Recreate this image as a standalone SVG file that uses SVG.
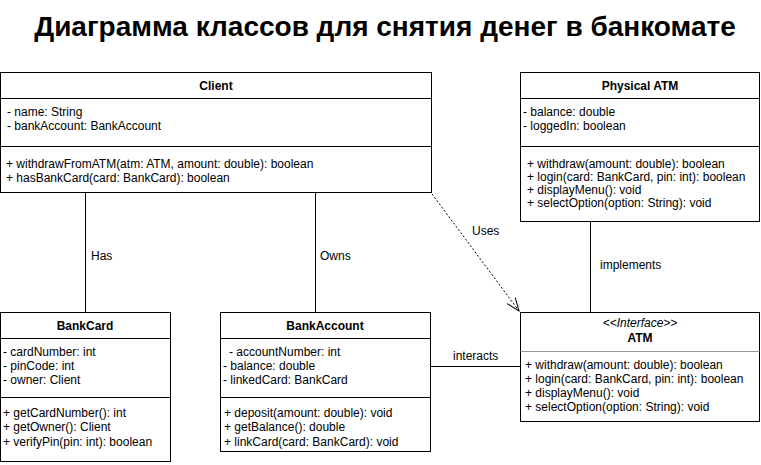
<svg xmlns="http://www.w3.org/2000/svg" width="761" height="465" viewBox="0 0 761 465">
<style>
.box{fill:#fff;stroke:#000;stroke-width:1}
.div{stroke:#000;stroke-width:1}
.t{font-family:"Liberation Sans",Arial,sans-serif;font-size:12px;fill:#000}
.b{font-weight:bold}
.c{text-anchor:middle}
.conn{stroke:#000;stroke-width:1;fill:none}
</style>
<defs>
<marker id="open" markerWidth="16" markerHeight="14" refX="14" refY="7" orient="auto" markerUnits="userSpaceOnUse">
<path d="M1,2 L14,7 L1,12" fill="none" stroke="#000" stroke-width="1"/>
</marker>
</defs>
<text x="385" y="36" font-family="'Liberation Sans',Arial,sans-serif" font-size="28" font-weight="bold" text-anchor="middle">Диаграмма классов для снятия денег в банкомате</text>

<g id="connectors">
<line class="conn" x1="85.5" y1="193" x2="85.5" y2="312"/>
<line class="conn" x1="315.5" y1="193" x2="315.5" y2="312"/>
<line class="conn" x1="590.5" y1="222" x2="590.5" y2="312"/>
<line class="conn" x1="430" y1="366.5" x2="520" y2="366.5"/>
<line class="conn" x1="432" y1="194" x2="519" y2="311" stroke-dasharray="2,2" marker-end="url(#open)"/>
<text class="t" x="91" y="260">Has</text>
<text class="t" x="320" y="260">Owns</text>
<text class="t" x="600" y="269">implements</text>
<text class="t" x="472" y="235">Uses</text>
<text class="t" x="453" y="360">interacts</text>
</g>

<g id="client">
<rect class="box" x="0.5" y="72.5" width="431" height="120"/>
<line class="div" x1="0.5" y1="98.5" x2="431.5" y2="98.5"/>
<line class="div" x1="0.5" y1="146.5" x2="431.5" y2="146.5"/>
<text class="t b c" x="216" y="90">Client</text>
<text class="t" x="7" y="116">- name: String</text>
<text class="t" x="7" y="130">- bankAccount: BankAccount</text>
<text class="t" x="6" y="168">+ withdrawFromATM(atm: ATM, amount: double): boolean</text>
<text class="t" x="6" y="182">+ hasBankCard(card: BankCard): boolean</text>
</g>

<g id="physical-atm">
<rect class="box" x="520.5" y="72.5" width="239" height="149"/>
<line class="div" x1="520.5" y1="98.5" x2="759.5" y2="98.5"/>
<line class="div" x1="520.5" y1="146.5" x2="759.5" y2="146.5"/>
<text class="t b c" x="640" y="90">Physical ATM</text>
<text class="t" x="523" y="116">- balance: double</text>
<text class="t" x="523" y="130">- loggedIn: boolean</text>
<text class="t" x="527" y="168">+ withdraw(amount: double): boolean</text>
<text class="t" x="527" y="181">+ login(card: BankCard, pin: int): boolean</text>
<text class="t" x="527" y="194">+ displayMenu(): void</text>
<text class="t" x="527" y="207">+ selectOption(option: String): void</text>
</g>

<g id="bankcard">
<rect class="box" x="0.5" y="312.5" width="170" height="149"/>
<line class="div" x1="0.5" y1="338.5" x2="170.5" y2="338.5"/>
<line class="div" x1="0.5" y1="397.5" x2="170.5" y2="397.5"/>
<text class="t b c" x="85" y="330">BankCard</text>
<text class="t" x="3" y="356">- cardNumber: int</text>
<text class="t" x="3" y="370">- pinCode: int</text>
<text class="t" x="3" y="384">- owner: Client</text>
<text class="t" x="3" y="417">+ getCardNumber(): int</text>
<text class="t" x="3" y="431">+ getOwner(): Client</text>
<text class="t" x="3" y="446">+ verifyPin(pin: int): boolean</text>
</g>

<g id="bankaccount">
<rect class="box" x="220.5" y="312.5" width="210" height="139"/>
<line class="div" x1="220.5" y1="338.5" x2="430.5" y2="338.5"/>
<line class="div" x1="220.5" y1="397.5" x2="430.5" y2="397.5"/>
<text class="t b c" x="325" y="330">BankAccount</text>
<text class="t" x="229" y="356">- accountNumber: int</text>
<text class="t" x="223" y="370">- balance: double</text>
<text class="t" x="223" y="384">- linkedCard: BankCard</text>
<text class="t" x="224" y="417">+ deposit(amount: double): void</text>
<text class="t" x="224" y="431">+ getBalance(): double</text>
<text class="t" x="224" y="446">+ linkCard(card: BankCard): void</text>
</g>

<g id="atm">
<rect class="box" x="520.5" y="312.5" width="239" height="109"/>
<line x1="520.5" y1="351.5" x2="759.5" y2="351.5" stroke="#999" stroke-width="1"/>
<text class="t c" x="640" y="327" font-style="italic" font-size="11">&lt;&lt;Interface&gt;&gt;</text>
<text class="t b c" x="640" y="342">ATM</text>
<text class="t" x="525" y="369">+ withdraw(amount: double): boolean</text>
<text class="t" x="525" y="383">+ login(card: BankCard, pin: int): boolean</text>
<text class="t" x="525" y="397">+ displayMenu(): void</text>
<text class="t" x="525" y="411">+ selectOption(option: String): void</text>
</g>
</svg>
